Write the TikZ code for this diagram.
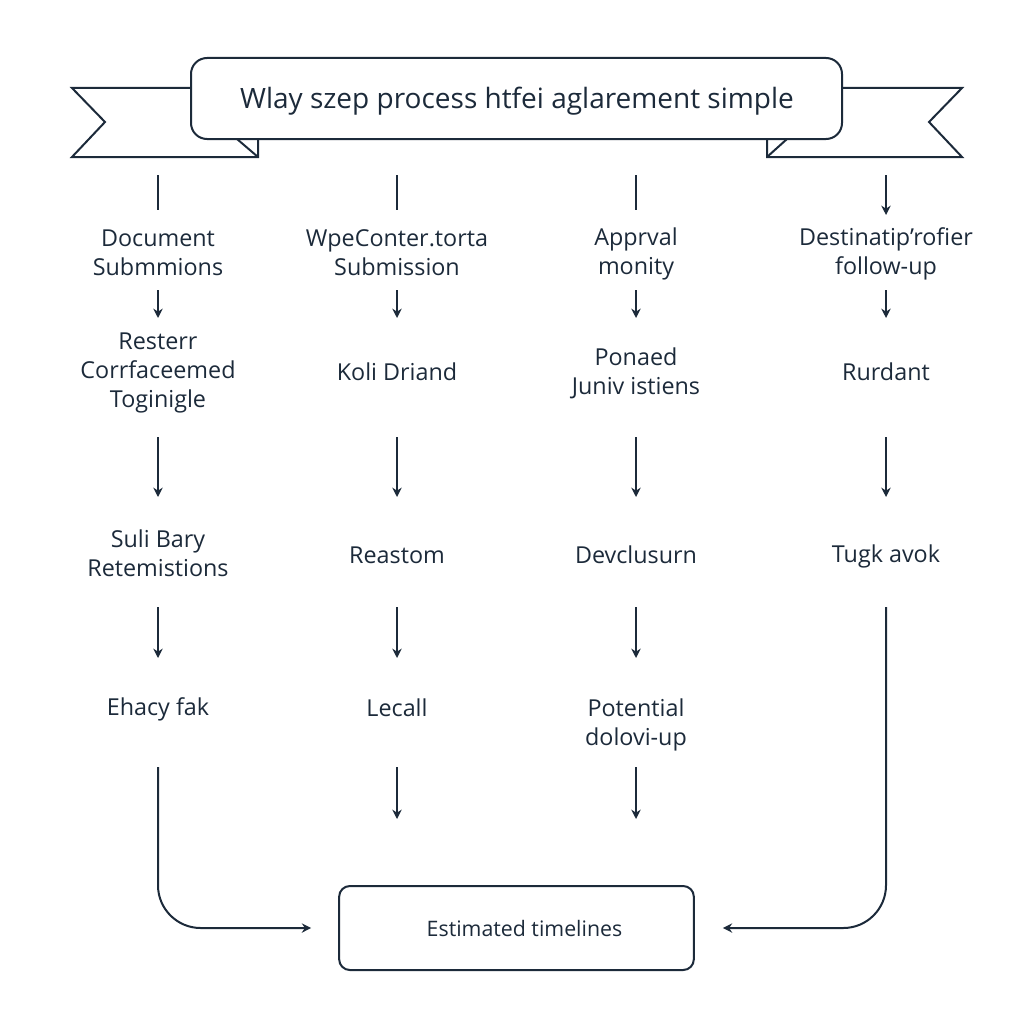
\documentclass[tikz,border=0pt]{standalone}
\usepackage{fontspec}
\setmainfont{Open Sans}
\usepackage{xcolor}
\usetikzlibrary{arrows.meta}
\definecolor{inkblue}{RGB}{28,42,58}
\tikzset{every picture/.style={line width=1.5pt}}
\tikzset{
  conn/.style={draw=inkblue, line width=1.5pt},
  arr/.style={conn, -{Stealth[length=7pt,width=7pt]}},
  lbl/.style={text=inkblue, font=\fontsize{17.5}{21.75}\selectfont, align=center, inner sep=0pt},
}

\begin{document}
\begin{tikzpicture}[x=0.75pt,y=0.75pt,yscale=-1,xscale=1]
\useasboundingbox (0,0) rectangle (1024,1024);

%Ribbon tails
\draw [conn, line join=miter]  (191,88) -- (72,88) -- (105,122) -- (72,157) -- (258,157) -- (258,139) ;
\draw [conn]  (237,139) -- (258,157) ;
\draw [conn, line join=miter]  (842,88) -- (962,88) -- (929,122) -- (962,157) -- (767,157) -- (767,139) ;
\draw [conn]  (787,139) -- (767,157) ;
%Rounded Rect
\draw [conn, fill=white, rounded corners=12pt]  (191,58) rectangle (842,139) ;

% Text Node
\node (title) at (517,101) [lbl, font=\fontsize{21}{25}\selectfont] {Wlay szep process htfei aglarement simple};

% Text Node
\node (doc)  at (158,253) [lbl] {Document\\Submmions};
\node (wpe)  at (397,253) [lbl] {WpeConter.torta\\Submission};
\node (appr) at (636,254) [lbl] {Apprval\\monity};
\node (dest) at (886,254) [lbl] {Destinatip'rofier\\follow-up};
% Text Node
\node (rest) at (158,373) [lbl] {Resterr\\Corrfaceemed\\Toginigle};
\node (koli) at (397,372) [lbl] {Koli Driand};
\node (pona) at (636,373) [lbl] {Ponaed\\Juniv istiens};
\node (rurd) at (886,372) [lbl] {Rurdant};
% Text Node
\node (suli) at (158,553) [lbl] {Suli Bary\\Retemistions};
\node (reas) at (397,555) [lbl] {Reastom};
\node (devc) at (636,555) [lbl] {Devclusurn};
\node (tugk) at (886,556) [lbl] {Tugk avok};
% Text Node
\node (ehac) at (158,709) [lbl] {Ehacy fak};
\node (leca) at (397,708) [lbl] {Lecall};
\node (pote) at (636,725) [lbl] {Potential\\dolovi-up};

% Rounded Rect
\node (est) at (516.5,928) [conn, lbl, font=\fontsize{16}{20}\selectfont, rounded corners=8pt, minimum width=266pt, minimum height=63pt] {\hspace*{12pt}Estimated timelines};

%Straight Lines
\coordinate (top1) at (158,175);
\coordinate (top2) at (397,175);
\coordinate (top3) at (636,175);
\coordinate (top4) at (886,175);
\draw [conn, shorten >=31.5pt]  (top1) -- (doc.center |- 0,252) ;
\draw [conn, shorten >=31.5pt]  (top2) -- (wpe.center |- 0,252) ;
\draw [conn, shorten >=31.5pt]  (top3) -- (appr.center |- 0,252) ;
\draw [arr, shorten >=27.75pt]  (top4) -- (dest.center |- 0,252) ;

%Straight Lines
\draw [arr, shorten <=28.5pt, shorten >=40.5pt]  (doc.center |- 0,252) -- (rest.center |- 0,372) ;
\draw [arr, shorten <=28.5pt, shorten >=40.5pt]  (wpe.center |- 0,252) -- (koli.center |- 0,372) ;
\draw [arr, shorten <=28.5pt, shorten >=40.5pt]  (appr.center |- 0,252) -- (pona.center |- 0,372) ;
\draw [arr, shorten <=28.5pt, shorten >=40.5pt]  (dest.center |- 0,252) -- (rurd.center |- 0,372) ;

\draw [arr, shorten <=48.75pt, shorten >=43.5pt]  (rest.center |- 0,372) -- (suli.center |- 0,555) ;
\draw [arr, shorten <=48.75pt, shorten >=43.5pt]  (koli.center |- 0,372) -- (reas.center |- 0,555) ;
\draw [arr, shorten <=48.75pt, shorten >=43.5pt]  (pona.center |- 0,372) -- (devc.center |- 0,555) ;
\draw [arr, shorten <=48.75pt, shorten >=43.5pt]  (rurd.center |- 0,372) -- (tugk.center |- 0,555) ;

\draw [arr, shorten <=39pt, shorten >=37.5pt]  (suli.center |- 0,555) -- (ehac.center |- 0,708) ;
\draw [arr, shorten <=39pt, shorten >=37.5pt]  (reas.center |- 0,555) -- (leca.center |- 0,708) ;
\draw [arr, shorten <=39pt, shorten >=49.5pt]  (devc.center |- 0,555) -- (pote.center |- 0,724) ;

\draw [arr, shorten <=44.25pt, shorten >=49.5pt]  (leca.center |- 0,708) -- (leca.center |- est.north) ;
\draw [arr, shorten <=32.25pt, shorten >=49.5pt]  (pote.center |- 0,724) -- (pote.center |- est.north) ;

%Curve Lines
\draw [arr, rounded corners=32pt, shorten <=44.25pt, shorten >=20.25pt]  (ehac.center |- 0,708) -- (ehac.center |- est.west) -- (est.west) ;
\draw [arr, rounded corners=32pt, shorten <=39pt, shorten >=21pt]  (tugk.center |- 0,555) -- (tugk.center |- est.east) -- (est.east) ;

\end{tikzpicture}
\end{document}
